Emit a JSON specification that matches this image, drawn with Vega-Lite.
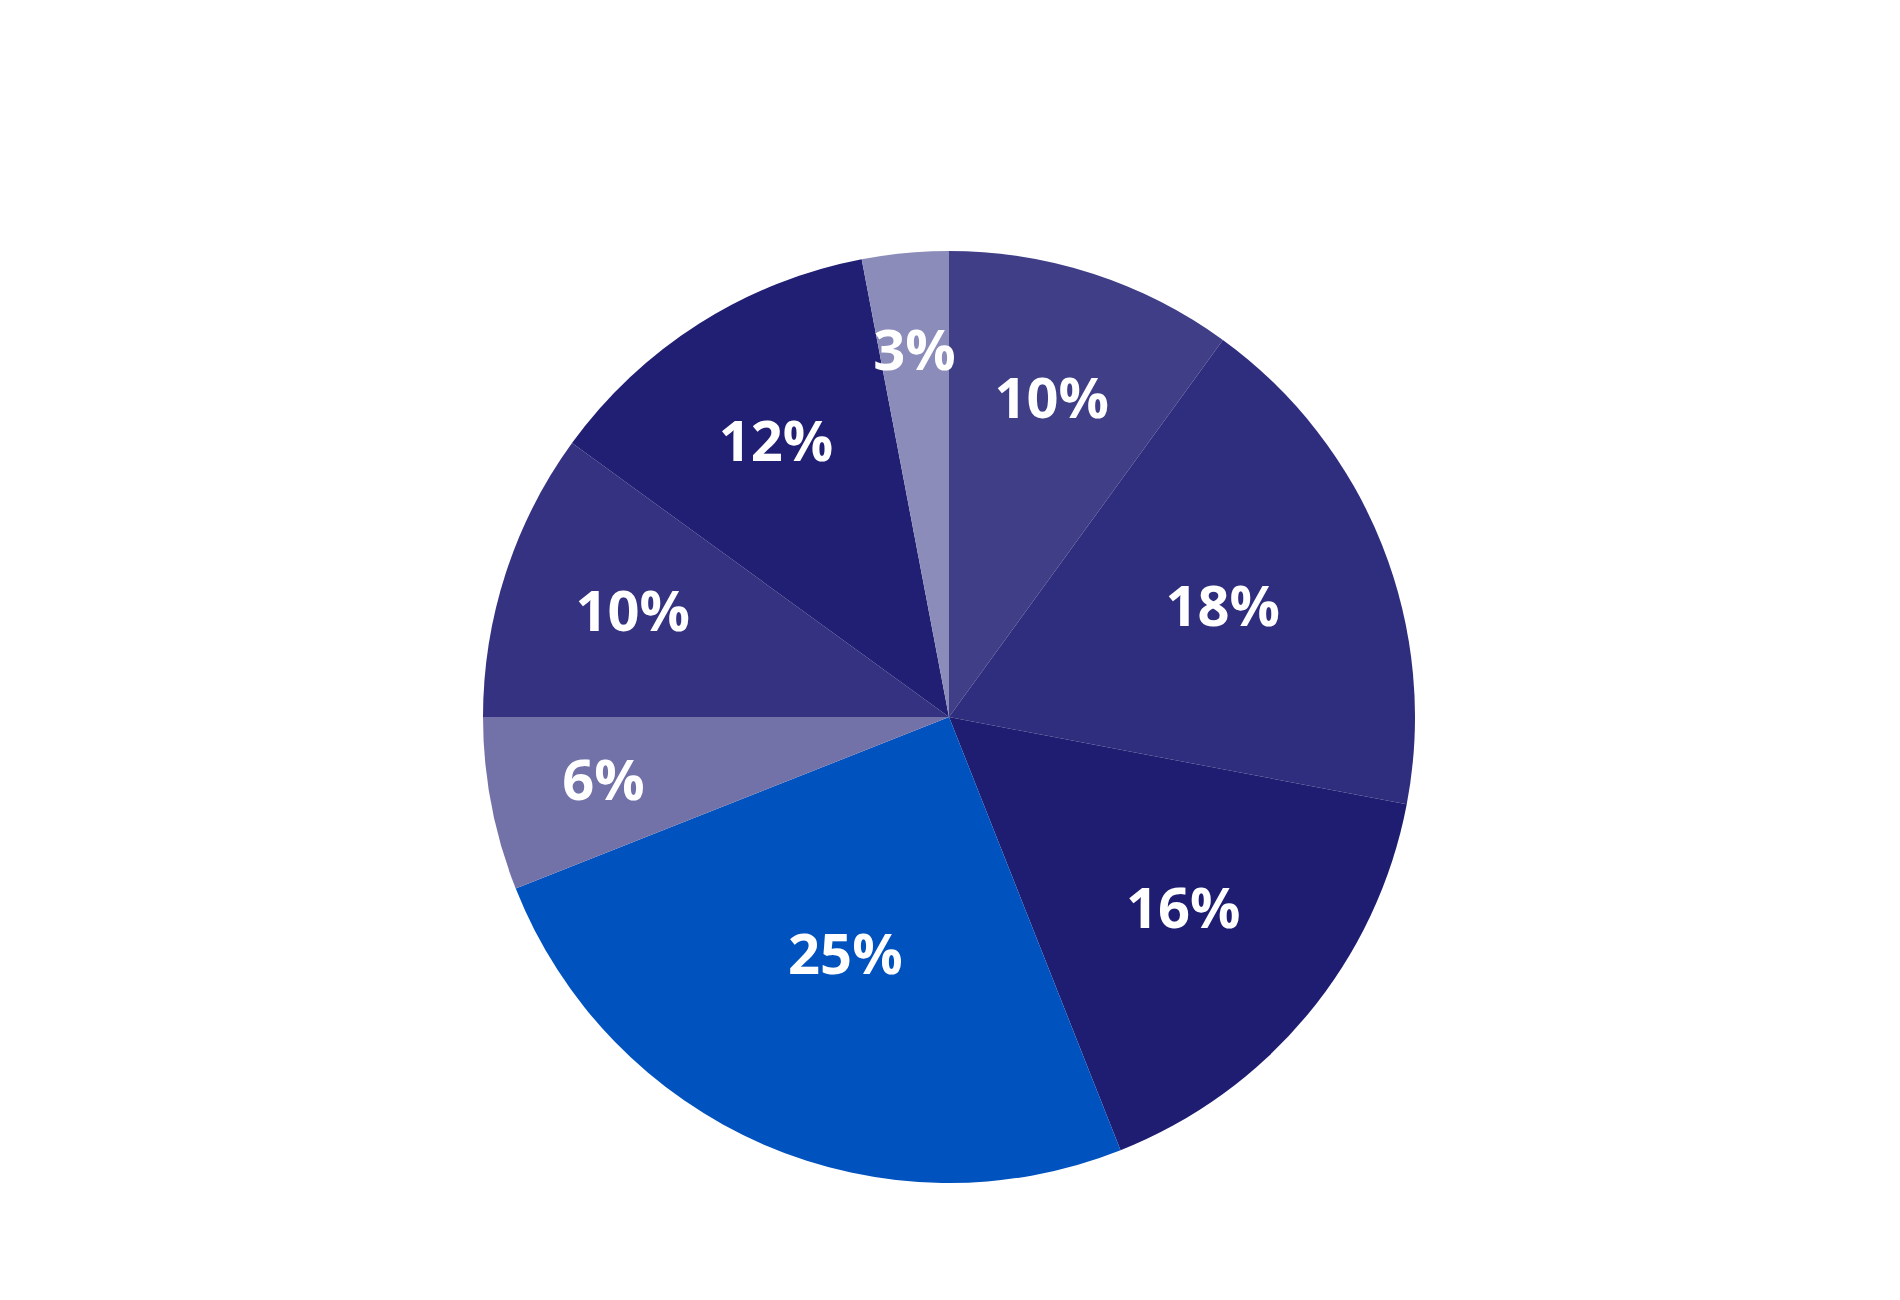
{
  "$schema": "https://vega.github.io/schema/vega-lite/v6.json",
  "autosize": "none",
  "width": 932,
  "height": 932,
  "padding": {"left": 483, "top": 251, "right": 0, "bottom": 0},
  "background": "white",
  "view": {"stroke": null},
  "data": {
    "values": [
      {"segment": "S1", "order": 1, "share": 0.10},
      {"segment": "S2", "order": 2, "share": 0.18},
      {"segment": "S3", "order": 3, "share": 0.16},
      {"segment": "S4", "order": 4, "share": 0.25},
      {"segment": "S5", "order": 5, "share": 0.06},
      {"segment": "S6", "order": 6, "share": 0.10},
      {"segment": "S7", "order": 7, "share": 0.12},
      {"segment": "S8", "order": 8, "share": 0.03}
    ]
  },
  "encoding": {
    "theta": {"field": "share", "type": "quantitative", "stack": true},
    "order": {"field": "order", "type": "quantitative"}
  },
  "layer": [
    {
      "mark": {"type": "arc", "outerRadius": 466, "stroke": null},
      "encoding": {
        "color": {
          "field": "segment",
          "type": "nominal",
          "legend": null,
          "scale": {
            "domain": ["S1", "S2", "S3", "S4", "S5", "S6", "S7", "S8"],
            "range": ["#403e87", "#2e2d7e", "#1e1d72", "#0052bf", "#7372a8", "#353381", "#211f73", "#8b8cba"]
          }
        }
      }
    },
    {
      "mark": {"type": "text", "font": "Open Sans", "fontWeight": "bold", "fontSize": 56, "color": "white", "align": "center", "baseline": "middle"},
      "encoding": {
        "text": {"field": "share", "type": "quantitative", "format": ".0%"},
        "radius": {
          "field": "share",
          "type": "quantitative",
          "scale": {"type": "linear", "zero": false, "domain": [0.03, 0.25], "range": [366, 261]}
        }
      }
    }
  ]
}
